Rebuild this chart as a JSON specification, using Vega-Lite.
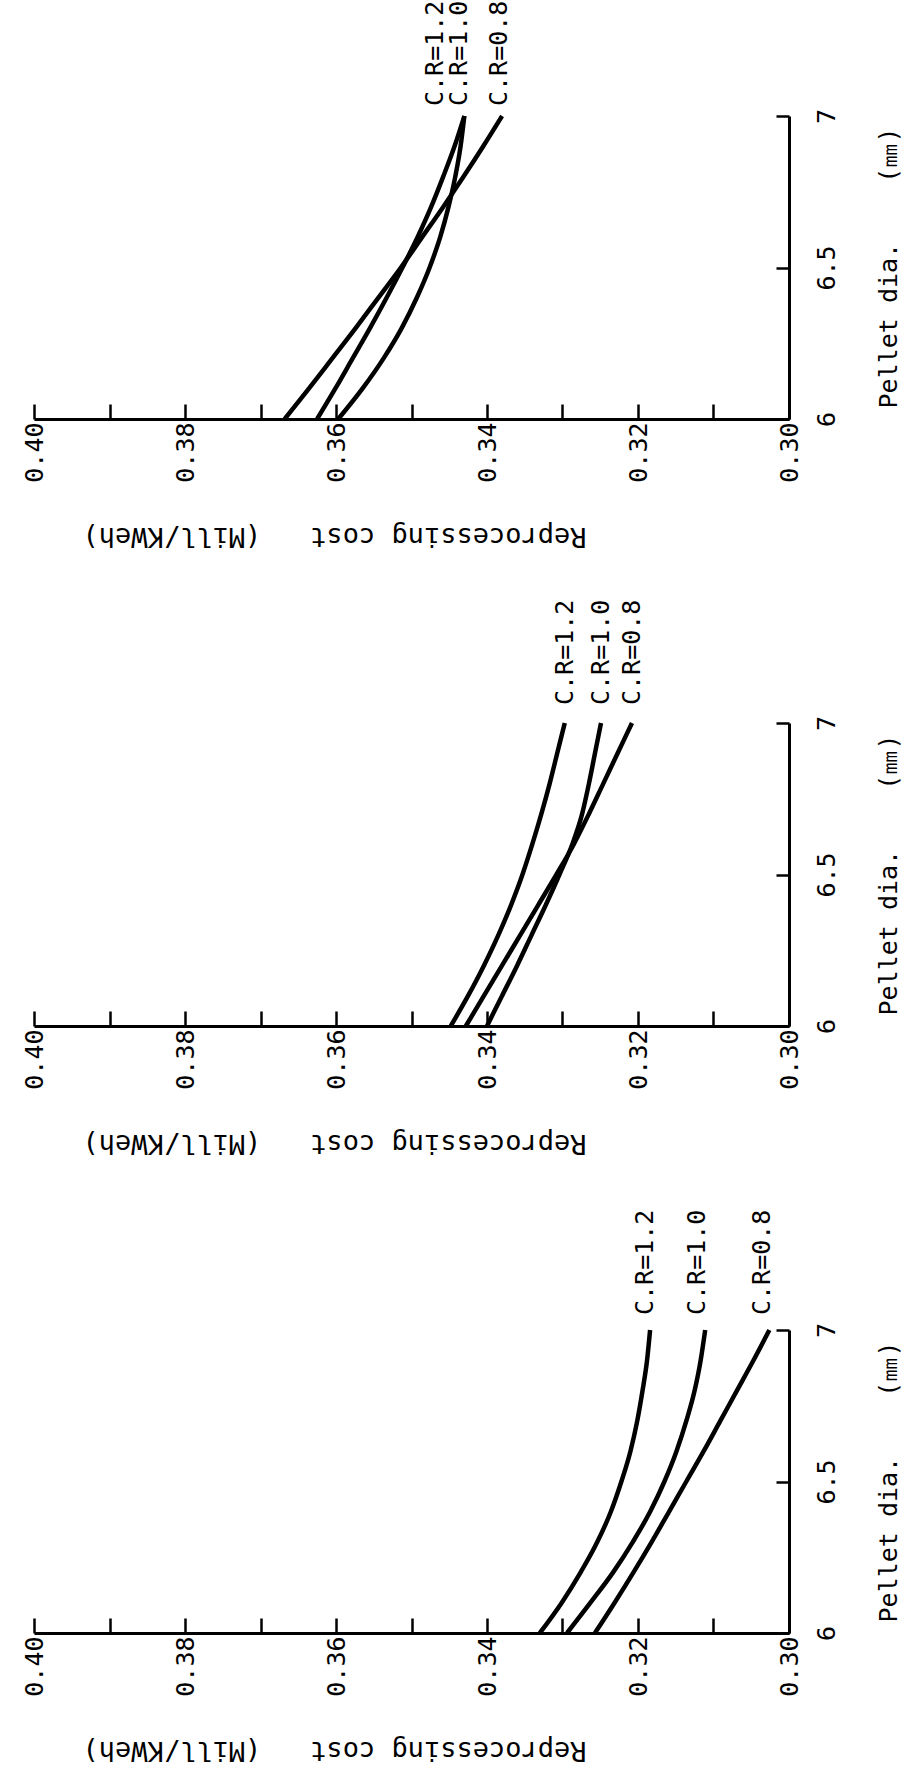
{
  "$schema": "https://vega.github.io/schema/vega-lite/v6.json",
  "background": "white",
  "padding": {"left": 22, "top": 0, "right": 5, "bottom": 5},
  "bounds": "flush",
  "spacing": 304,
  "config": {
    "view": {"stroke": null},
    "axis": {"grid": false, "domainColor": "black", "tickColor": "black", "labelColor": "black", "titleColor": "black", "labelFont": "DejaVu Sans Mono", "titleFont": "DejaVu Sans Mono", "titleFontWeight": "normal"}
  },
  "datasets": {
    "curves": [
      {"panel": 1, "cr": "0.8", "dia": 6.0, "cost": 0.3668}, {"panel": 1, "cr": "0.8", "dia": 6.1, "cost": 0.3636}, {"panel": 1, "cr": "0.8", "dia": 6.2, "cost": 0.3605}, {"panel": 1, "cr": "0.8", "dia": 6.3, "cost": 0.3574}, {"panel": 1, "cr": "0.8", "dia": 6.4, "cost": 0.3544}, {"panel": 1, "cr": "0.8", "dia": 6.5, "cost": 0.3514}, {"panel": 1, "cr": "0.8", "dia": 6.6, "cost": 0.3486}, {"panel": 1, "cr": "0.8", "dia": 6.7, "cost": 0.3458}, {"panel": 1, "cr": "0.8", "dia": 6.8, "cost": 0.3431}, {"panel": 1, "cr": "0.8", "dia": 6.9, "cost": 0.3405}, {"panel": 1, "cr": "0.8", "dia": 7.0, "cost": 0.3380},
      {"panel": 1, "cr": "1.2", "dia": 6.0, "cost": 0.3625}, {"panel": 1, "cr": "1.2", "dia": 6.1, "cost": 0.3601}, {"panel": 1, "cr": "1.2", "dia": 6.2, "cost": 0.3578}, {"panel": 1, "cr": "1.2", "dia": 6.3, "cost": 0.3555}, {"panel": 1, "cr": "1.2", "dia": 6.4, "cost": 0.3533}, {"panel": 1, "cr": "1.2", "dia": 6.5, "cost": 0.3512}, {"panel": 1, "cr": "1.2", "dia": 6.6, "cost": 0.3492}, {"panel": 1, "cr": "1.2", "dia": 6.7, "cost": 0.3474}, {"panel": 1, "cr": "1.2", "dia": 6.8, "cost": 0.3458}, {"panel": 1, "cr": "1.2", "dia": 6.9, "cost": 0.3443}, {"panel": 1, "cr": "1.2", "dia": 7.0, "cost": 0.3430},
      {"panel": 1, "cr": "1.0", "dia": 6.0, "cost": 0.3597}, {"panel": 1, "cr": "1.0", "dia": 6.1, "cost": 0.3565}, {"panel": 1, "cr": "1.0", "dia": 6.2, "cost": 0.3537}, {"panel": 1, "cr": "1.0", "dia": 6.3, "cost": 0.3513}, {"panel": 1, "cr": "1.0", "dia": 6.4, "cost": 0.3493}, {"panel": 1, "cr": "1.0", "dia": 6.5, "cost": 0.3476}, {"panel": 1, "cr": "1.0", "dia": 6.6, "cost": 0.3462}, {"panel": 1, "cr": "1.0", "dia": 6.7, "cost": 0.3451}, {"panel": 1, "cr": "1.0", "dia": 6.8, "cost": 0.3442}, {"panel": 1, "cr": "1.0", "dia": 6.9, "cost": 0.3435}, {"panel": 1, "cr": "1.0", "dia": 7.0, "cost": 0.3430},
      {"panel": 2, "cr": "1.2", "dia": 6.0, "cost": 0.3448}, {"panel": 2, "cr": "1.2", "dia": 6.1, "cost": 0.3425}, {"panel": 2, "cr": "1.2", "dia": 6.2, "cost": 0.3404}, {"panel": 2, "cr": "1.2", "dia": 6.3, "cost": 0.3385}, {"panel": 2, "cr": "1.2", "dia": 6.4, "cost": 0.3368}, {"panel": 2, "cr": "1.2", "dia": 6.5, "cost": 0.3353}, {"panel": 2, "cr": "1.2", "dia": 6.6, "cost": 0.3340}, {"panel": 2, "cr": "1.2", "dia": 6.7, "cost": 0.3328}, {"panel": 2, "cr": "1.2", "dia": 6.8, "cost": 0.3317}, {"panel": 2, "cr": "1.2", "dia": 6.9, "cost": 0.3307}, {"panel": 2, "cr": "1.2", "dia": 7.0, "cost": 0.3297},
      {"panel": 2, "cr": "1.0", "dia": 6.0, "cost": 0.3400}, {"panel": 2, "cr": "1.0", "dia": 6.1, "cost": 0.3380}, {"panel": 2, "cr": "1.0", "dia": 6.2, "cost": 0.3360}, {"panel": 2, "cr": "1.0", "dia": 6.3, "cost": 0.3341}, {"panel": 2, "cr": "1.0", "dia": 6.4, "cost": 0.3322}, {"panel": 2, "cr": "1.0", "dia": 6.5, "cost": 0.3304}, {"panel": 2, "cr": "1.0", "dia": 6.6, "cost": 0.3287}, {"panel": 2, "cr": "1.0", "dia": 6.7, "cost": 0.3274}, {"panel": 2, "cr": "1.0", "dia": 6.8, "cost": 0.3265}, {"panel": 2, "cr": "1.0", "dia": 6.9, "cost": 0.3257}, {"panel": 2, "cr": "1.0", "dia": 7.0, "cost": 0.3249},
      {"panel": 2, "cr": "0.8", "dia": 6.0, "cost": 0.3428}, {"panel": 2, "cr": "0.8", "dia": 6.1, "cost": 0.3404}, {"panel": 2, "cr": "0.8", "dia": 6.2, "cost": 0.3380}, {"panel": 2, "cr": "0.8", "dia": 6.3, "cost": 0.3356}, {"panel": 2, "cr": "0.8", "dia": 6.4, "cost": 0.3332}, {"panel": 2, "cr": "0.8", "dia": 6.5, "cost": 0.3308}, {"panel": 2, "cr": "0.8", "dia": 6.6, "cost": 0.3285}, {"panel": 2, "cr": "0.8", "dia": 6.7, "cost": 0.3265}, {"panel": 2, "cr": "0.8", "dia": 6.8, "cost": 0.3246}, {"panel": 2, "cr": "0.8", "dia": 6.9, "cost": 0.3227}, {"panel": 2, "cr": "0.8", "dia": 7.0, "cost": 0.3208},
      {"panel": 3, "cr": "1.2", "dia": 6.0, "cost": 0.3330}, {"panel": 3, "cr": "1.2", "dia": 6.1, "cost": 0.3301}, {"panel": 3, "cr": "1.2", "dia": 6.2, "cost": 0.3276}, {"panel": 3, "cr": "1.2", "dia": 6.3, "cost": 0.3254}, {"panel": 3, "cr": "1.2", "dia": 6.4, "cost": 0.3236}, {"panel": 3, "cr": "1.2", "dia": 6.5, "cost": 0.3222}, {"panel": 3, "cr": "1.2", "dia": 6.6, "cost": 0.3210}, {"panel": 3, "cr": "1.2", "dia": 6.7, "cost": 0.3201}, {"panel": 3, "cr": "1.2", "dia": 6.8, "cost": 0.3194}, {"panel": 3, "cr": "1.2", "dia": 6.9, "cost": 0.3188}, {"panel": 3, "cr": "1.2", "dia": 7.0, "cost": 0.3184},
      {"panel": 3, "cr": "1.0", "dia": 6.0, "cost": 0.3294}, {"panel": 3, "cr": "1.0", "dia": 6.1, "cost": 0.3263}, {"panel": 3, "cr": "1.0", "dia": 6.2, "cost": 0.3233}, {"panel": 3, "cr": "1.0", "dia": 6.3, "cost": 0.3207}, {"panel": 3, "cr": "1.0", "dia": 6.4, "cost": 0.3184}, {"panel": 3, "cr": "1.0", "dia": 6.5, "cost": 0.3165}, {"panel": 3, "cr": "1.0", "dia": 6.6, "cost": 0.3149}, {"panel": 3, "cr": "1.0", "dia": 6.7, "cost": 0.3136}, {"panel": 3, "cr": "1.0", "dia": 6.8, "cost": 0.3125}, {"panel": 3, "cr": "1.0", "dia": 6.9, "cost": 0.3117}, {"panel": 3, "cr": "1.0", "dia": 7.0, "cost": 0.3111},
      {"panel": 3, "cr": "0.8", "dia": 6.0, "cost": 0.3257}, {"panel": 3, "cr": "0.8", "dia": 6.1, "cost": 0.3231}, {"panel": 3, "cr": "0.8", "dia": 6.2, "cost": 0.3206}, {"panel": 3, "cr": "0.8", "dia": 6.3, "cost": 0.3182}, {"panel": 3, "cr": "0.8", "dia": 6.4, "cost": 0.3159}, {"panel": 3, "cr": "0.8", "dia": 6.5, "cost": 0.3136}, {"panel": 3, "cr": "0.8", "dia": 6.6, "cost": 0.3113}, {"panel": 3, "cr": "0.8", "dia": 6.7, "cost": 0.3091}, {"panel": 3, "cr": "0.8", "dia": 6.8, "cost": 0.3069}, {"panel": 3, "cr": "0.8", "dia": 6.9, "cost": 0.3047}, {"panel": 3, "cr": "0.8", "dia": 7.0, "cost": 0.3026}
    ],
    "labels": [
      {"panel": 1, "label": "C.R=1.2", "dia": 7.0, "cost": 0.3469},
      {"panel": 1, "label": "C.R=1.0", "dia": 7.0, "cost": 0.3437},
      {"panel": 1, "label": "C.R=0.8", "dia": 7.0, "cost": 0.3384},
      {"panel": 2, "label": "C.R=1.2", "dia": 7.0, "cost": 0.3297},
      {"panel": 2, "label": "C.R=1.0", "dia": 7.0, "cost": 0.3249},
      {"panel": 2, "label": "C.R=0.8", "dia": 7.0, "cost": 0.3208},
      {"panel": 3, "label": "C.R=1.2", "dia": 7.0, "cost": 0.3191},
      {"panel": 3, "label": "C.R=1.0", "dia": 7.0, "cost": 0.3122},
      {"panel": 3, "label": "C.R=0.8", "dia": 7.0, "cost": 0.3036}
    ]
  },
  "vconcat": [
    {
      "width": 755, "height": 303,
      "layer": [
        {
          "data": {"name": "curves"},
          "transform": [{"filter": "datum.panel == 1"}],
          "mark": {"type": "line", "color": "black", "strokeWidth": 4.5, "interpolate": "monotone"},
          "encoding": {
            "x": {"field": "cost", "type": "quantitative", "scale": {"domain": [0.3, 0.4], "reverse": true, "nice": false, "zero": false},
              "axis": {"orient": "bottom", "values": [0.3, 0.31, 0.32, 0.33, 0.34, 0.35, 0.36, 0.37, 0.38, 0.39, 0.4], "labelExpr": "round(datum.value*100) % 2 == 0 ? format(datum.value, '.2f') : ''", "labelAngle": 270, "labelFontSize": 25, "labelPadding": 18, "labelFlush": false, "labelOverlap": false, "tickSize": -15, "tickWidth": 2.5, "domainWidth": 3, "title": "Reprocessing cost\u00a0\u00a0\u00a0(Mill/KWeh)", "titleAngle": 180, "titleFontSize": 27, "titleX": 300, "titleY": 116, "titleAlign": "center", "titleBaseline": "middle"}},
            "y": {"field": "dia", "type": "quantitative", "scale": {"domain": [6, 7], "nice": false, "zero": false},
              "axis": {"orient": "right", "values": [6, 6.5, 7], "format": "~g", "labelAngle": 270, "labelAlign": "center", "labelBaseline": "top", "labelFontSize": 25, "labelPadding": 38, "labelFlush": false, "labelOverlap": false, "tickSize": -13, "tickWidth": 2.5, "domainWidth": 3, "title": "Pellet dia.\u00a0\u00a0\u00a0\u00a0(㎜)", "titleAngle": 270, "titleBaseline": "top", "titleFontSize": 25, "titlePadding": 37}},
            "detail": {"field": "cr", "type": "nominal"},
            "order": {"field": "dia", "type": "quantitative"}
          }
        },
        {
          "data": {"name": "labels"},
          "transform": [{"filter": "datum.panel == 1"}],
          "mark": {"type": "text", "angle": 270, "align": "left", "baseline": "middle", "dx": 10, "fontSize": 25, "font": "DejaVu Sans Mono", "color": "black"},
          "encoding": {"x": {"field": "cost", "type": "quantitative"}, "y": {"field": "dia", "type": "quantitative"}, "text": {"field": "label", "type": "nominal"}}
        }
      ]
    },
    {
      "width": 755, "height": 303,
      "layer": [
        {
          "data": {"name": "curves"},
          "transform": [{"filter": "datum.panel == 2"}],
          "mark": {"type": "line", "color": "black", "strokeWidth": 4.5, "interpolate": "monotone"},
          "encoding": {
            "x": {"field": "cost", "type": "quantitative", "scale": {"domain": [0.3, 0.4], "reverse": true, "nice": false, "zero": false},
              "axis": {"orient": "bottom", "values": [0.3, 0.31, 0.32, 0.33, 0.34, 0.35, 0.36, 0.37, 0.38, 0.39, 0.4], "labelExpr": "round(datum.value*100) % 2 == 0 ? format(datum.value, '.2f') : ''", "labelAngle": 270, "labelFontSize": 25, "labelPadding": 18, "labelFlush": false, "labelOverlap": false, "tickSize": -15, "tickWidth": 2.5, "domainWidth": 3, "title": "Reprocessing cost\u00a0\u00a0\u00a0(Mill/KWeh)", "titleAngle": 180, "titleFontSize": 27, "titleX": 300, "titleY": 116, "titleAlign": "center", "titleBaseline": "middle"}},
            "y": {"field": "dia", "type": "quantitative", "scale": {"domain": [6, 7], "nice": false, "zero": false},
              "axis": {"orient": "right", "values": [6, 6.5, 7], "format": "~g", "labelAngle": 270, "labelAlign": "center", "labelBaseline": "top", "labelFontSize": 25, "labelPadding": 38, "labelFlush": false, "labelOverlap": false, "tickSize": -13, "tickWidth": 2.5, "domainWidth": 3, "title": "Pellet dia.\u00a0\u00a0\u00a0\u00a0(㎜)", "titleAngle": 270, "titleBaseline": "top", "titleFontSize": 25, "titlePadding": 37}},
            "detail": {"field": "cr", "type": "nominal"},
            "order": {"field": "dia", "type": "quantitative"}
          }
        },
        {
          "data": {"name": "labels"},
          "transform": [{"filter": "datum.panel == 2"}],
          "mark": {"type": "text", "angle": 270, "align": "left", "baseline": "middle", "dx": 18, "fontSize": 25, "font": "DejaVu Sans Mono", "color": "black"},
          "encoding": {"x": {"field": "cost", "type": "quantitative"}, "y": {"field": "dia", "type": "quantitative"}, "text": {"field": "label", "type": "nominal"}}
        }
      ]
    },
    {
      "width": 755, "height": 303,
      "layer": [
        {
          "data": {"name": "curves"},
          "transform": [{"filter": "datum.panel == 3"}],
          "mark": {"type": "line", "color": "black", "strokeWidth": 4.5, "interpolate": "monotone"},
          "encoding": {
            "x": {"field": "cost", "type": "quantitative", "scale": {"domain": [0.3, 0.4], "reverse": true, "nice": false, "zero": false},
              "axis": {"orient": "bottom", "values": [0.3, 0.31, 0.32, 0.33, 0.34, 0.35, 0.36, 0.37, 0.38, 0.39, 0.4], "labelExpr": "round(datum.value*100) % 2 == 0 ? format(datum.value, '.2f') : ''", "labelAngle": 270, "labelFontSize": 25, "labelPadding": 18, "labelFlush": false, "labelOverlap": false, "tickSize": -15, "tickWidth": 2.5, "domainWidth": 3, "title": "Reprocessing cost\u00a0\u00a0\u00a0(Mill/KWeh)", "titleAngle": 180, "titleFontSize": 27, "titleX": 300, "titleY": 116, "titleAlign": "center", "titleBaseline": "middle"}},
            "y": {"field": "dia", "type": "quantitative", "scale": {"domain": [6, 7], "nice": false, "zero": false},
              "axis": {"orient": "right", "values": [6, 6.5, 7], "format": "~g", "labelAngle": 270, "labelAlign": "center", "labelBaseline": "top", "labelFontSize": 25, "labelPadding": 38, "labelFlush": false, "labelOverlap": false, "tickSize": -13, "tickWidth": 2.5, "domainWidth": 3, "title": "Pellet dia.\u00a0\u00a0\u00a0\u00a0(㎜)", "titleAngle": 270, "titleBaseline": "top", "titleFontSize": 25, "titlePadding": 37}},
            "detail": {"field": "cr", "type": "nominal"},
            "order": {"field": "dia", "type": "quantitative"}
          }
        },
        {
          "data": {"name": "labels"},
          "transform": [{"filter": "datum.panel == 3"}],
          "mark": {"type": "text", "angle": 270, "align": "left", "baseline": "middle", "dx": 15, "fontSize": 25, "font": "DejaVu Sans Mono", "color": "black"},
          "encoding": {"x": {"field": "cost", "type": "quantitative"}, "y": {"field": "dia", "type": "quantitative"}, "text": {"field": "label", "type": "nominal"}}
        }
      ]
    }
  ]
}
